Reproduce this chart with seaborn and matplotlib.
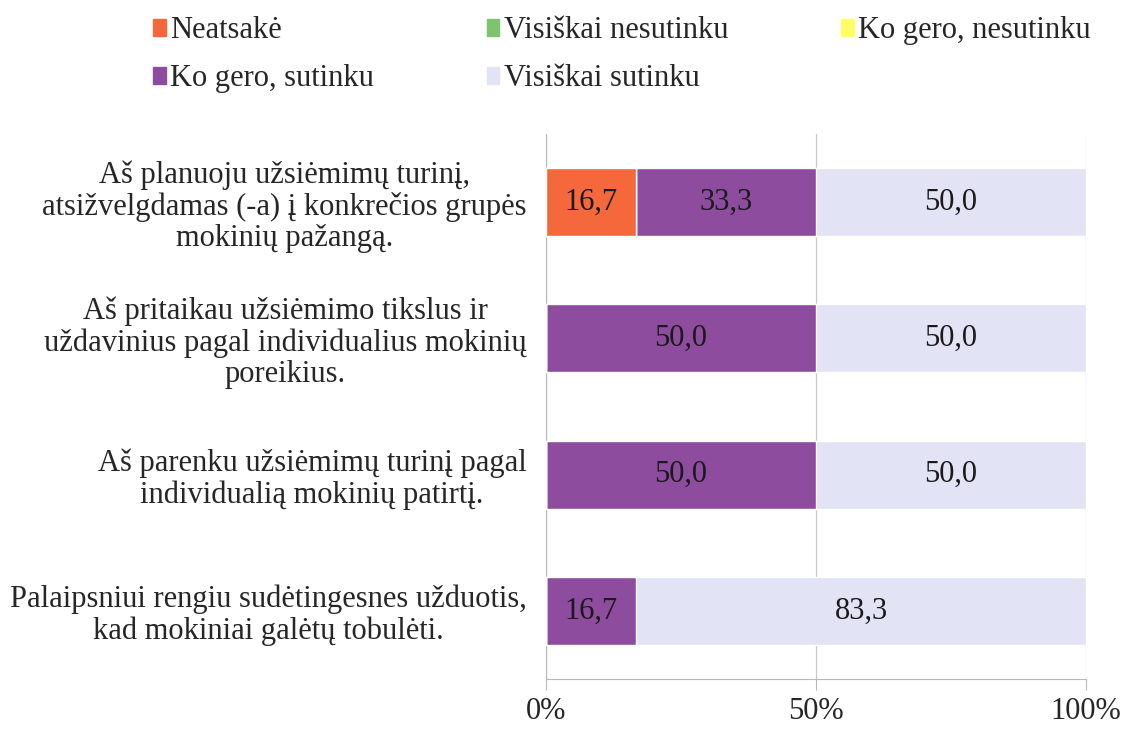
import numpy as np
import pandas as pd
import matplotlib
matplotlib.use("Agg")
import matplotlib.pyplot as plt
import seaborn as sns

# === Data ===
statements = [
    "Aš planuoju užsiėmimų turinį,\natsižvelgdamas (-a) į konkrečios grupės\nmokinių pažangą.",
    "Aš pritaikau užsiėmimo tikslus ir\nuždavinius pagal individualius mokinių\nporeikius.",
    "Aš parenku užsiėmimų turinį pagal\nindividualią mokinių patirtį.",
    "Palaipsniui rengiu sudėtingesnes užduotis,\nkad mokiniai galėtų tobulėti.",
]
series_names = ["Neatsakė", "Visiškai nesutinku", "Ko gero, nesutinku",
                "Ko gero, sutinku", "Visiškai sutinku"]
neatsake = [16.7, 0.0, 0.0, 0.0]
visiskai_nesutinku = [0.0, 0.0, 0.0, 0.0]
ko_gero_nesutinku = [0.0, 0.0, 0.0, 0.0]
ko_gero_sutinku = [33.3, 50.0, 50.0, 16.7]
visiskai_sutinku = [50.0, 50.0, 50.0, 83.3]
colors = ["#F4683C", "#7CC46E", "#FFFF66", "#8E4C9E", "#E2E3F5"]
x_ticks = [0, 50, 100]
x_ticklabels = ["0%", "50%", "100%"]

df = pd.DataFrame({
    "statement": statements,
    series_names[0]: neatsake,
    series_names[1]: visiskai_nesutinku,
    series_names[2]: ko_gero_nesutinku,
    series_names[3]: ko_gero_sutinku,
    series_names[4]: visiskai_sutinku,
})

# === Setup ===
sns.set_style("white")
plt.rcParams["font.family"] = ["Liberation Serif", "DejaVu Serif"]
fs = 22

fig = plt.figure(figsize=(11.25, 7.31), dpi=100)
ax = fig.add_axes([0.4853, 0.071, 0.48, 0.746])

# cumulative layers, widest first so narrower ones sit on top
cum = df[series_names].cumsum(axis=1)
for name, col in reversed(list(zip(series_names, colors))):
    sns.barplot(x=cum[name], y=df["statement"], color=col, saturation=1,
                width=0.5, errorbar=None, orient="h", ax=ax, zorder=3)

# value labels
for i, row in df.iterrows():
    left = 0
    for name in series_names:
        v = row[name]
        if v > 0:
            ax.text(left + v / 2, i, f"{v:.1f}".replace(".", ","),
                    ha="center", va="center", fontsize=fs, color="#1a1a1a", zorder=5)
        left += v

ax.set_xlim(0, 100)
ax.set_ylim(3.5, -0.5)
ax.set_xticks(x_ticks)
ax.set_xticklabels(x_ticklabels, fontsize=fs)
ax.set_yticks(range(len(statements)))
ax.set_yticklabels(statements, fontsize=fs, multialignment="center", linespacing=1.1)
ax.set_xlabel("")
ax.set_ylabel("")
ax.xaxis.grid(True, color="#c8c8c8", lw=0.9, zorder=0)
ax.yaxis.grid(False)
for s in ["top", "right"]:
    ax.spines[s].set_visible(False)
ax.spines["left"].set_color("#b8b8b8")
ax.spines["bottom"].set_color("#b8b8b8")
ax.spines["bottom"].set_linestyle((0, (2, 1)))
ax.tick_params(axis="x", length=8, color="#b8b8b8", pad=5, bottom=True)
ax.tick_params(axis="y", length=0, pad=14)

# legend (column-major order to reproduce row layout)
order = [0, 3, 1, 4, 2]
handles = [plt.Rectangle((0, 0), 1, 1, color=colors[k]) for k in order]
labels = [series_names[k] for k in order]
fig.legend(handles, labels, loc="center", bbox_to_anchor=(0.553, 0.925), ncol=3,
           frameon=False, fontsize=fs, handlelength=0.4, handleheight=0.45,
           handletextpad=0.15, columnspacing=3.7, labelspacing=0.62)

plt.savefig("out.png", dpi=100)
